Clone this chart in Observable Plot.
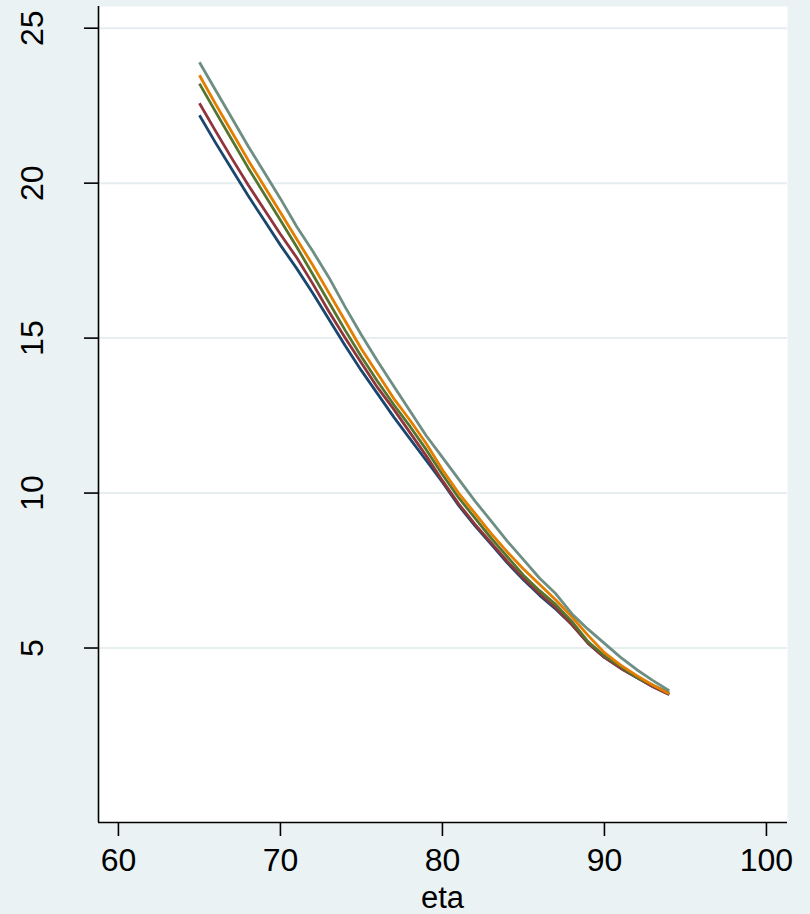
<!DOCTYPE html>
<html>
<head>
<meta charset="utf-8">
<script src="https://cdn.jsdelivr.net/npm/d3@7"></script>
<script src="https://cdn.jsdelivr.net/npm/@observablehq/plot@0.6"></script>
<style>
  html, body { margin: 0; padding: 0; background: #EAF2F3; }
  #chart svg { display: block; background: transparent; }
</style>
</head>
<body>
<div id="chart"></div>
<script>
// ---- data ----
const ages = [65,66,67,68,69,70,71,72,73,74,75,76,77,78,79,80,81,82,83,84,85,86,87,88,89,90,91,92,93,94];
const seriesNames = ["s1","s2","s3","s4","s5"];
const s1 = [22.19,21.3,20.45,19.6,18.8,18.0,17.25,16.45,15.6,14.75,13.95,13.2,12.45,11.75,11.05,10.35,9.6,8.95,8.35,7.75,7.2,6.7,6.25,5.75,5.15,4.7,4.35,4.05,3.75,3.5];
const s2 = [22.58,21.68,20.8,19.95,19.15,18.35,17.6,16.75,15.85,15.0,14.2,13.4,12.7,11.95,11.2,10.4,9.65,9.0,8.4,7.8,7.25,6.75,6.3,5.75,5.15,4.7,4.35,4.05,3.75,3.5];
const s3 = [23.21,22.3,21.4,20.5,19.65,18.8,17.95,17.05,16.15,15.25,14.4,13.6,12.85,12.15,11.4,10.6,9.85,9.2,8.55,7.95,7.35,6.85,6.4,5.85,5.2,4.75,4.4,4.05,3.8,3.55];
const s4 = [23.48,22.55,21.65,20.75,19.9,19.05,18.2,17.35,16.45,15.55,14.65,13.85,13.05,12.35,11.6,10.75,10.0,9.35,8.7,8.1,7.55,7.05,6.55,6.0,5.4,4.85,4.45,4.11,3.8,3.52];
const s5 = [23.9,23.0,22.1,21.2,20.35,19.5,18.6,17.8,16.95,16.0,15.1,14.25,13.45,12.65,11.85,11.15,10.45,9.75,9.1,8.45,7.85,7.25,6.75,6.1,5.6,5.15,4.7,4.3,3.95,3.62];
const seriesColors = ["#1a476f","#90353b","#55752f","#e37e00","#6e8e84"];
const xTicks = [60,70,80,90,100];
const yTicks = [5,10,15,20,25];
const xTitle = "eta";

// ---- build table ----
const allSeries = [s1,s2,s3,s4,s5];
const rows = [];
allSeries.forEach((vals, i) => {
  ages.forEach((a, j) => rows.push({series: seriesNames[i], eta: a, value: vals[j]}));
});

const FONT = "'Liberation Sans', Arial, Helvetica, sans-serif";

const chart = Plot.plot({
  width: 810,
  height: 914,
  marginLeft: 98,
  marginRight: 23,
  marginTop: 6,
  marginBottom: 92,
  style: {fontFamily: FONT, background: "transparent", overflow: "visible"},
  x: {domain: [58.77, 101.3]},
  y: {domain: [-0.63, 25.7]},
  color: {domain: seriesNames, range: seriesColors},
  marks: [
    Plot.frame({fill: "white", stroke: null}),
    Plot.ruleY(yTicks, {stroke: "#E6EEF0", strokeWidth: 2}),
    Plot.line(rows, {x: "eta", y: "value", z: "series", stroke: "series", strokeWidth: 2.8, strokeLinejoin: "round", strokeLinecap: "butt"}),
    Plot.axisY({ticks: yTicks, tickSize: 14, tickFormat: () => "", label: null, stroke: "black", strokeWidth: 1.6}),
    Plot.text(yTicks, {y: d => d, text: d => String(d), frameAnchor: "left", dx: -66, rotate: -90, textAnchor: "middle", lineAnchor: "middle", fontSize: 32, fill: "black"}),
    Plot.axisX({ticks: xTicks, tickSize: 14, tickPadding: 12, fontSize: 32, label: null, stroke: "black", strokeWidth: 1.6, fill: "black"}),
    Plot.text([xTitle], {x: 80, text: d => d, frameAnchor: "bottom", dy: 76, lineAnchor: "middle", fontSize: 31, fill: "black"}),
    Plot.ruleX([58.77], {stroke: "black", strokeWidth: 1.6}),
    Plot.ruleY([-0.63], {stroke: "black", strokeWidth: 1.6})
  ]
});
document.getElementById("chart").appendChild(chart);
</script>
</body>
</html>
